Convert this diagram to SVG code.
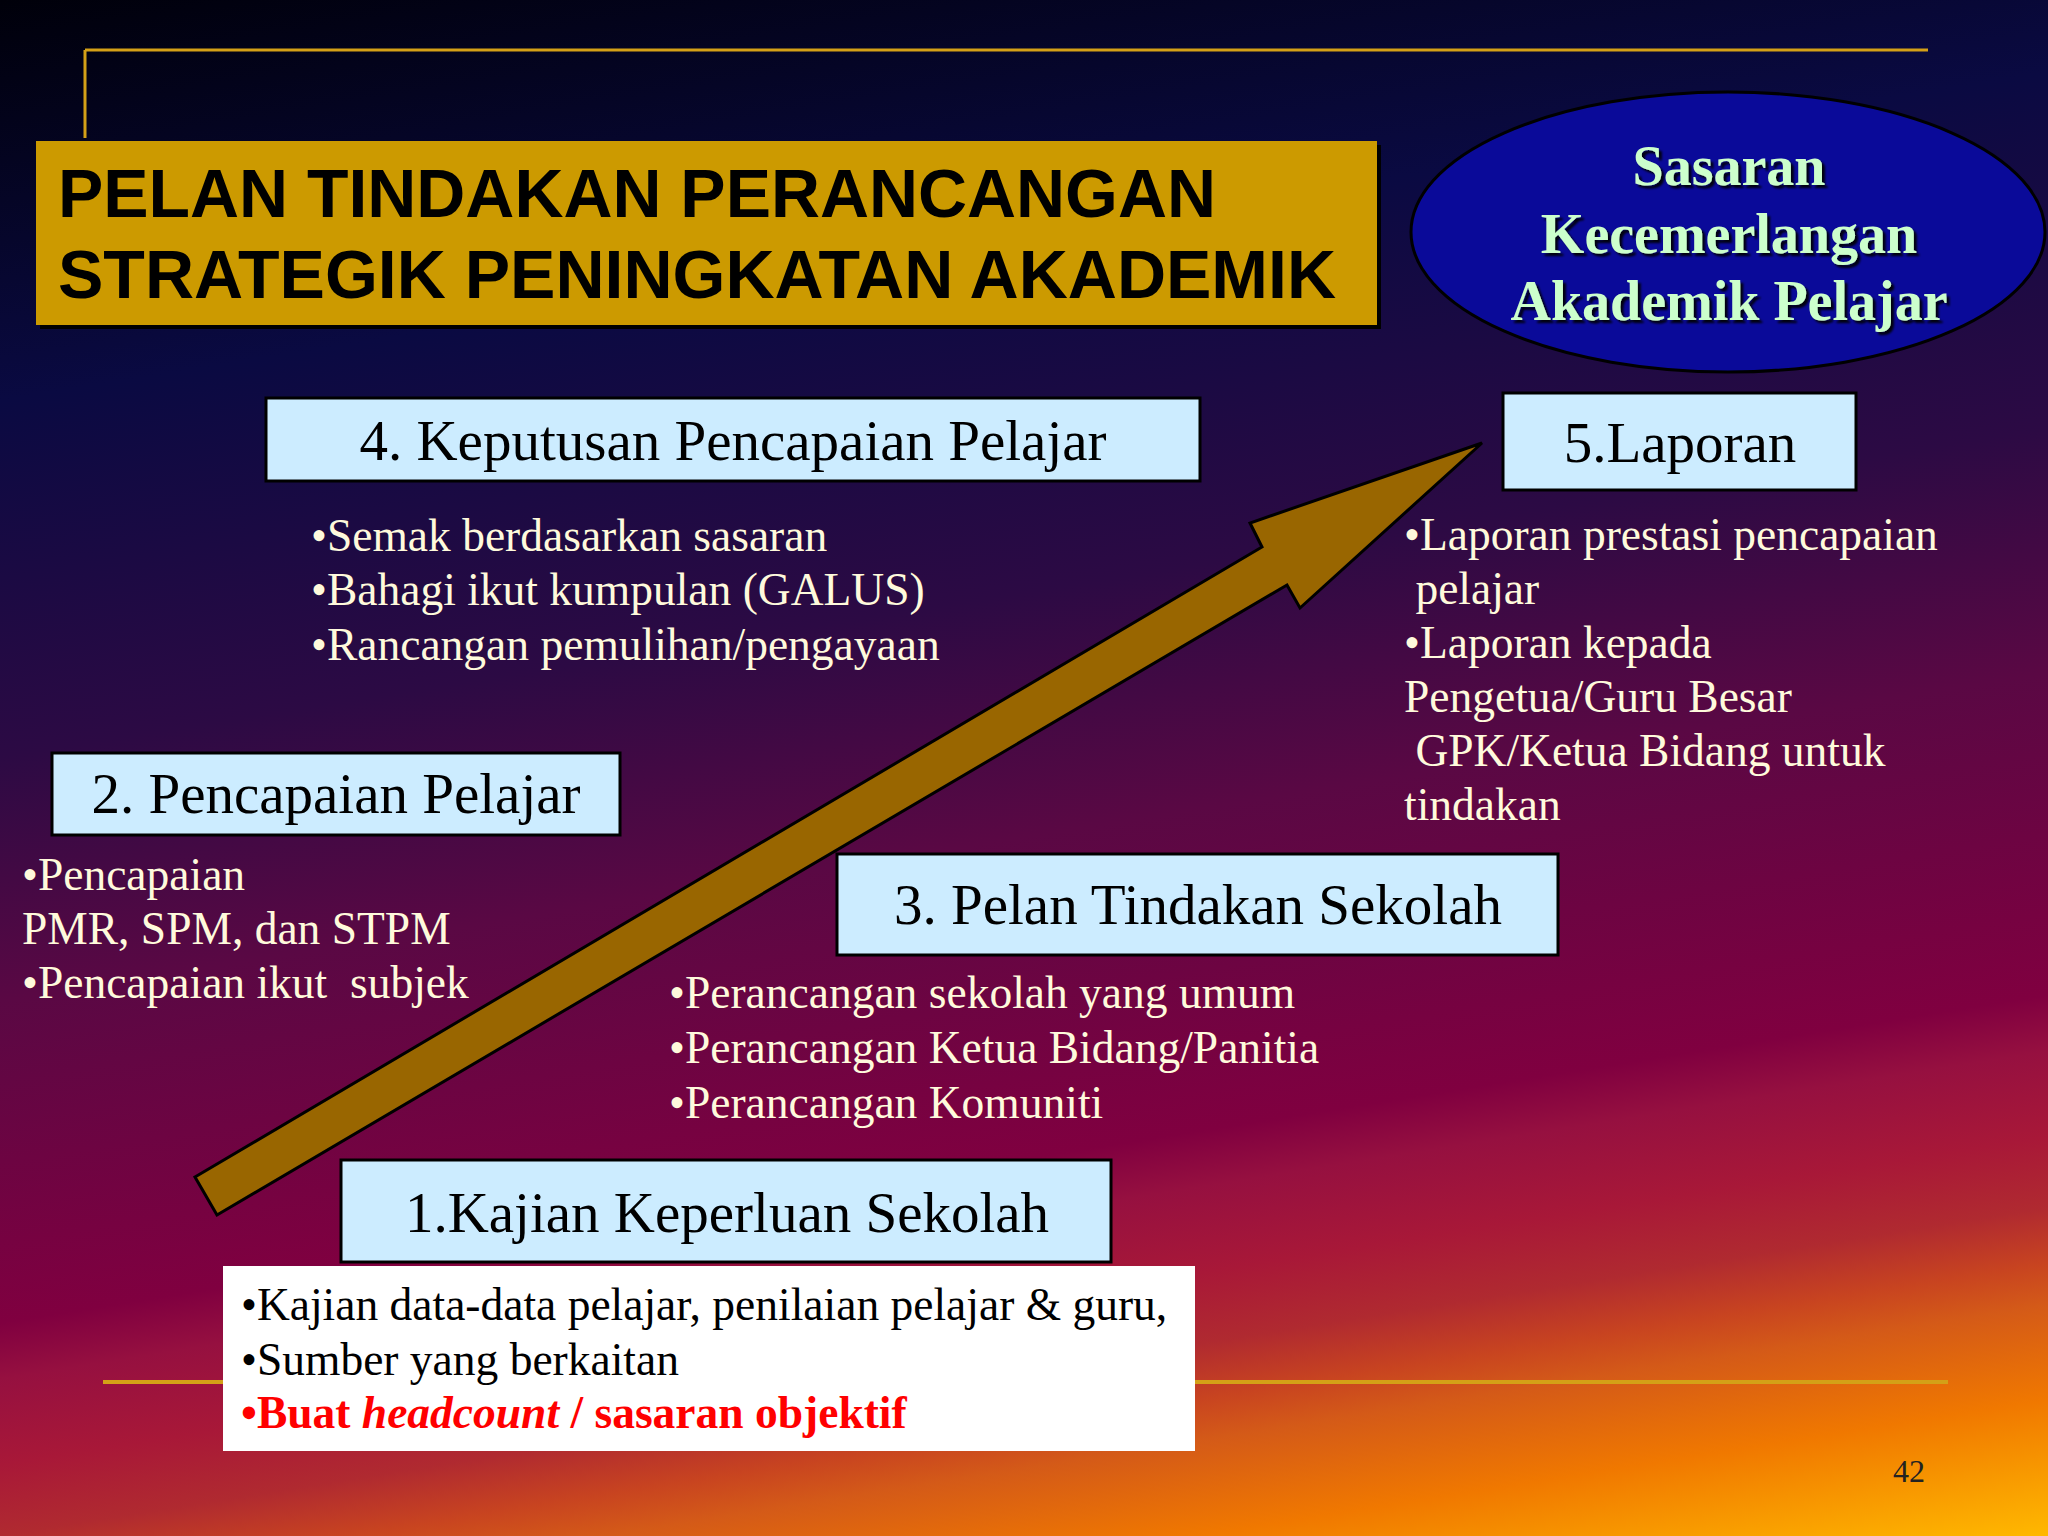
<svg xmlns="http://www.w3.org/2000/svg" width="2048" height="1536" viewBox="0 0 2048 1536">
<defs>
<linearGradient id="bg" x1="0" y1="0" x2="291" y2="1817" gradientUnits="userSpaceOnUse">
<stop offset="0" stop-color="#00000a"/>
<stop offset="0.215" stop-color="#0a0a42"/>
<stop offset="0.406" stop-color="#2c0a44"/>
<stop offset="0.537" stop-color="#5a0844"/>
<stop offset="0.71" stop-color="#800040"/>
<stop offset="0.74" stop-color="#961040"/>
<stop offset="0.786" stop-color="#a81838"/>
<stop offset="0.824" stop-color="#b02a30"/>
<stop offset="0.854" stop-color="#c84420"/>
<stop offset="0.876" stop-color="#d45a18"/>
<stop offset="0.927" stop-color="#f07800"/>
<stop offset="1" stop-color="#ffb800"/>
</linearGradient>
<filter id="sh" x="-10%" y="-10%" width="130%" height="130%">
<feDropShadow dx="3" dy="3" stdDeviation="1" flood-color="#000" flood-opacity="0.9"/>
</filter>
</defs>
<style>
.box{fill:#ccecff;stroke:#000;stroke-width:3}
.hd{font-family:"Liberation Serif","Times New Roman",serif;font-size:57px;fill:#000;text-anchor:middle}
.bl{font-family:"Liberation Serif","Times New Roman",serif;font-size:45.5px;fill:#fffadc}
.bk{font-family:"Liberation Serif","Times New Roman",serif;font-size:45.5px;fill:#000}
.red{fill:#ff0000;font-weight:bold}
.gold{stroke:#d4a017;fill:none}
.ell{font-family:"Liberation Serif","Times New Roman",serif;font-size:56px;font-weight:bold;fill:#ccffcc;text-anchor:middle}
.ttl{font-family:"Liberation Sans",Arial,sans-serif;font-weight:bold;font-size:68px;fill:#000}
</style>
<rect width="2048" height="1536" fill="url(#bg)"/>

<g id="frame-lines">
<path class="gold" stroke-width="3" d="M85 50 H1928 M85 50 V138"/>
<path class="gold" stroke-width="4" d="M103 1382 H1948"/>
</g>

<g id="title">
<rect x="40" y="145" width="1341" height="184" fill="#000"/>
<rect x="36" y="141" width="1341" height="184" fill="#cc9a00"/>
<text class="ttl" x="58" y="217" textLength="1158" lengthAdjust="spacingAndGlyphs">PELAN TINDAKAN PERANCANGAN</text>
<text class="ttl" x="58" y="298" textLength="1278" lengthAdjust="spacingAndGlyphs">STRATEGIK PENINGKATAN AKADEMIK</text>
</g>

<g id="goal">
<ellipse cx="1728" cy="232" rx="317" ry="140" fill="#0a0a99" stroke="#000" stroke-width="3"/>
<g filter="url(#sh)">
<text class="ell" x="1729" y="185">Sasaran</text>
<text class="ell" x="1729" y="253">Kecemerlangan</text>
<text class="ell" x="1729" y="320">Akademik Pelajar</text>
</g>
</g>

<g id="connectors">
<polygon points="217,1215 195,1177 1262,547 1250,523 1482,443 1300,608 1287,585" fill="#996600" stroke="#000" stroke-width="3" stroke-linejoin="miter"/>
</g>

<g id="step4">
<rect class="box" x="266" y="398" width="934" height="83"/>
<text class="hd" x="733" y="460">4. Keputusan Pencapaian Pelajar</text>
<text class="bl" x="311" y="551">•Semak berdasarkan sasaran</text>
<text class="bl" x="311" y="605">•Bahagi ikut kumpulan (GALUS)</text>
<text class="bl" x="311" y="660">•Rancangan pemulihan/pengayaan</text>
</g>

<g id="step5">
<rect class="box" x="1503" y="393" width="353" height="97"/>
<text class="hd" x="1680" y="462">5.Laporan</text>
<text class="bl" x="1404" y="550">•Laporan prestasi pencapaian</text>
<text class="bl" x="1404" y="604" xml:space="preserve"> pelajar</text>
<text class="bl" x="1404" y="658">•Laporan kepada</text>
<text class="bl" x="1404" y="712">Pengetua/Guru Besar</text>
<text class="bl" x="1404" y="766" xml:space="preserve"> GPK/Ketua Bidang untuk</text>
<text class="bl" x="1404" y="820">tindakan</text>
</g>

<g id="step2">
<rect class="box" x="52" y="753" width="568" height="82"/>
<text class="hd" x="336" y="813">2. Pencapaian Pelajar</text>
<text class="bl" x="22" y="890">•Pencapaian</text>
<text class="bl" x="22" y="944">PMR, SPM, dan STPM</text>
<text class="bl" x="22" y="998" xml:space="preserve">•Pencapaian ikut  subjek</text>
</g>

<g id="step3">
<rect class="box" x="837" y="854" width="721" height="101"/>
<text class="hd" x="1198" y="924">3. Pelan Tindakan Sekolah</text>
<text class="bl" x="669" y="1008">•Perancangan sekolah yang umum</text>
<text class="bl" x="669" y="1063">•Perancangan Ketua Bidang/Panitia</text>
<text class="bl" x="669" y="1118">•Perancangan Komuniti</text>
</g>

<g id="step1">
<rect class="box" x="341" y="1160" width="770" height="102"/>
<text class="hd" x="727" y="1232">1.Kajian Keperluan Sekolah</text>
<rect x="223" y="1266" width="972" height="185" fill="#ffffff"/>
<text class="bk" x="241" y="1320">•Kajian data-data pelajar, penilaian pelajar &amp; guru,</text>
<text class="bk" x="241" y="1375">•Sumber yang berkaitan</text>
<text class="bk red" x="241" y="1428">•Buat <tspan font-style="italic">headcount</tspan> / sasaran objektif</text>
</g>

<g id="page-number">
<text x="1893" y="1482" font-family="'Liberation Serif','Times New Roman',serif" font-size="32" fill="#222">42</text>
</g>
</svg>
